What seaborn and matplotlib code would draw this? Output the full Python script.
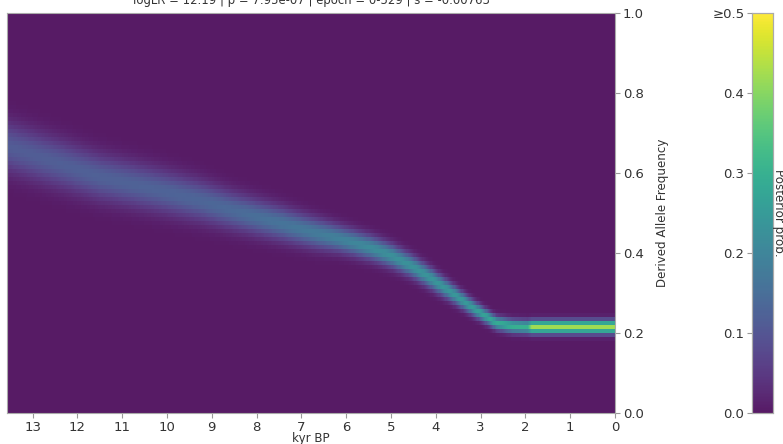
import numpy as np
import pandas as pd
import matplotlib
matplotlib.use("Agg")
import matplotlib.pyplot as plt
import seaborn as sns
from matplotlib.colors import ListedColormap

# ---------------- data ----------------
title = "logLR = 12.19 | p = 7.95e-07 | epoch = 0-529 | s = -0.00763"
kyr_max = 13.56          # left edge of the time axis (kyr BP)
n_epochs = 530           # epochs 0-529
n_bins = 100             # derived allele frequency bins

# posterior trajectory:
# time (kyr BP), centre frequency, spread (sd), peak posterior probability
anchor_kyr = [13.56, 12.5, 11.5, 10.2, 9.3, 8.5, 7.5, 6.7, 6.2, 5.85, 5.4, 4.97, 4.53, 4.1, 3.66, 3.2, 2.65, 2.3, 1.95, 1.85, 0.0]
anchor_mean = [0.666, 0.627, 0.590, 0.557, 0.532, 0.505, 0.475, 0.450, 0.437, 0.426, 0.411, 0.392, 0.367, 0.336, 0.302, 0.265, 0.225, 0.217, 0.215, 0.215, 0.215]
anchor_sd = [0.041, 0.040, 0.038, 0.036, 0.034, 0.031, 0.028, 0.025, 0.022, 0.021, 0.020, 0.019, 0.018, 0.017, 0.015, 0.013, 0.011, 0.011, 0.011, 0.011, 0.011]
anchor_peak = [0.11, 0.115, 0.12, 0.125, 0.13, 0.14, 0.16, 0.175, 0.19, 0.20, 0.215, 0.225, 0.23, 0.235, 0.24, 0.25, 0.285, 0.30, 0.30, 0.42, 0.42]

x_ticks = [13, 12, 11, 10, 9, 8, 7, 6, 5, 4, 3, 2, 1, 0]
y_ticks = [0.0, 0.2, 0.4, 0.6, 0.8, 1.0]
cbar_ticks = [0.0, 0.1, 0.2, 0.3, 0.4, 0.5]
cbar_ticklabels = ["0.0", "0.1", "0.2", "0.3", "0.4", "≥0.5"]

# ---------------- posterior matrix ----------------
col_kyr = kyr_max * (1 - (np.arange(n_epochs) + 0.5) / n_epochs)
col_mean = np.interp(col_kyr, anchor_kyr[::-1], anchor_mean[::-1])
col_sd = np.interp(col_kyr, anchor_kyr[::-1], anchor_sd[::-1])
col_peak = np.interp(col_kyr, anchor_kyr[::-1], anchor_peak[::-1])
freq = (np.arange(n_bins) + 0.5) / n_bins
post = col_peak[None, :] * np.exp(-0.5 * ((freq[:, None] - col_mean[None, :]) / col_sd[None, :]) ** 2)
df = pd.DataFrame(post[::-1, :], index=np.round(freq[::-1], 3), columns=np.round(col_kyr, 3))

# ---------------- style ----------------
sns.set_theme(style="ticks")
plt.rcParams["font.family"] = ["DejaVu Sans"]
base = plt.get_cmap("viridis")(np.linspace(0, 1, 256))
base[:, :3] = base[:, :3] * 0.9 + 0.1
cmap = ListedColormap(base)

W, H = 783, 444
fig = plt.figure(figsize=(W / 100, H / 100), dpi=100)
ax = fig.add_axes([7.5 / W, 1 - 413 / H, (615 - 7.5) / W, 400 / H])
cax = fig.add_axes([752 / W, 1 - 413 / H, 21 / W, 400 / H])

sns.heatmap(df, ax=ax, cmap=cmap, vmin=0, vmax=0.5, cbar_ax=cax,
            xticklabels=False, yticklabels=False, rasterized=True)

# axes ticks
ax.set_xticks([(kyr_max - k) / kyr_max * n_epochs for k in x_ticks])
ax.set_xticklabels([str(k) for k in x_ticks], fontsize=9.5, color="#333333")
ax.set_yticks([(1 - v) * n_bins for v in y_ticks])
ax.set_yticklabels([f"{v:.1f}" for v in y_ticks], fontsize=9.5, color="#333333")
ax.yaxis.tick_right()
ax.yaxis.set_label_position("right")
ax.tick_params(axis="both", length=3.5, width=0.8, color="#999999", pad=2)
ax.set_xlabel("kyr BP", fontsize=8.6, color="#333333", labelpad=-1)
ax.set_ylabel("Derived Allele Frequency", fontsize=8.6, color="#333333", labelpad=9)
for s in ax.spines.values():
    s.set_visible(True)
    s.set_color("#aaaaaa")
    s.set_linewidth(0.8)

# colorbar
cax.yaxis.set_ticks_position("left")
cax.set_yticks(cbar_ticks)
cax.set_yticklabels(cbar_ticklabels, fontsize=9.5, color="#333333")
cax.tick_params(axis="y", length=3.5, width=0.8, color="#999999", pad=2)
for s in cax.spines.values():
    s.set_visible(True)
    s.set_color("#aaaaaa")
    s.set_linewidth(0.8)
fig.text(778 / W, 1 - 213 / H, "Posterior prob.", rotation=270, ha="center", va="center",
         fontsize=8.6, color="#333333")

fig.text(311 / W, 1 - 4 / H, title, ha="center", va="baseline", fontsize=8.4, color="#333333")

fig.savefig("out.png", dpi=100)
